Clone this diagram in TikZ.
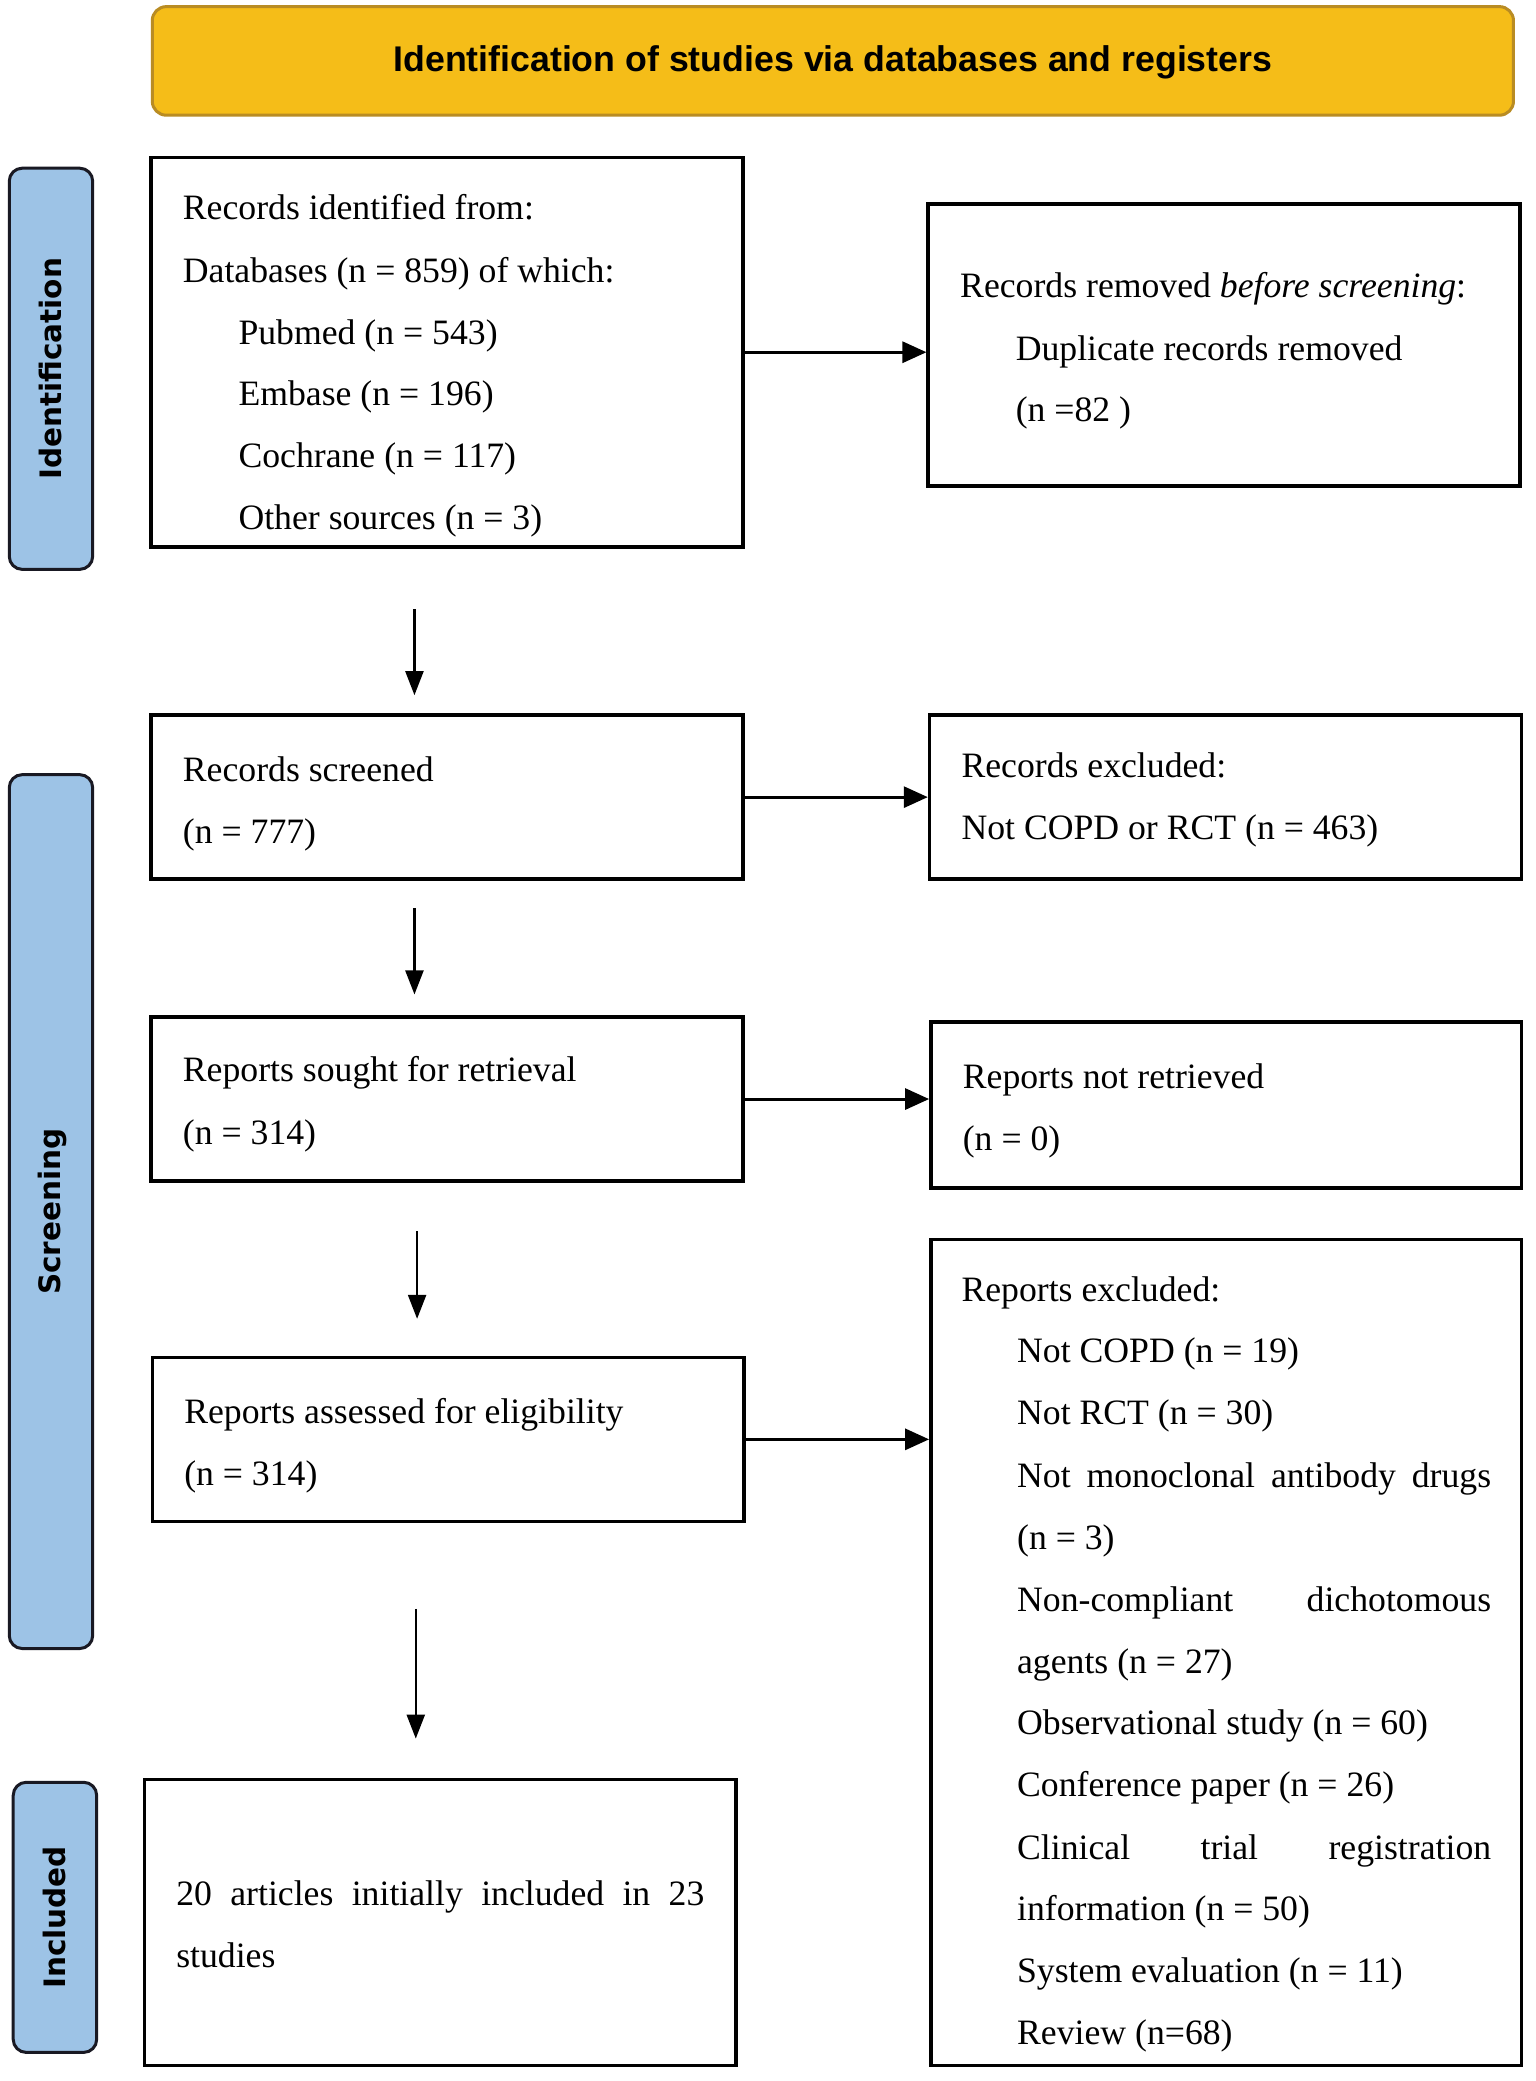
\documentclass[tikz,border=0pt]{standalone}
\usepackage{fontspec}
\setmainfont{Liberation Serif}
\newfontfamily\bannerfont{Liberation Sans}
\newfontfamily\labelfont{DejaVu Sans}
\usetikzlibrary{arrows.meta,fit}
\definecolor{bannerfill}{RGB}{245,189,24}
\definecolor{bannerdraw}{RGB}{185,140,35}
\definecolor{labelfill}{RGB}{157,195,230}
\definecolor{labeldraw}{RGB}{25,25,35}
\begin{document}
\begin{tikzpicture}[x=1.3241pt,y=-1.3241pt,
  box/.style={draw=black,line width=3.5pt,fill=white,inner sep=0pt},
  lbl/.style={draw=labeldraw,line width=3pt,fill=labelfill,inner sep=0pt,rounded corners=13pt},
  banner/.style={draw=bannerdraw,line width=3pt,fill=bannerfill,inner sep=0pt,rounded corners=14pt},
  txt/.style={anchor=base west,inner sep=0pt,font=\fontsize{35.7}{42}\selectfont},
  lbltxt/.style={rotate=90,inner sep=0pt,font=\labelfont\bfseries\fontsize{29.5}{34}\selectfont},
  hflow/.style={line width=3pt,-{Triangle[length=24pt,width=21pt]}},
  vflow/.style={line width=2.3pt,-{Triangle[length=24pt,width=18pt]}}
]
\useasboundingbox (0,0) rectangle (1160,1571.6);
\fill[white] (0,0) rectangle (1160,1571.6);

% banner
\node[banner,fit={(115,5) (1143,87)}] (ban) {};
\node[inner sep=0pt,font=\bannerfont\bfseries\fontsize{35.7}{42}\selectfont] at (629,47) {Identification of studies via databases and registers};

% side labels
\node[lbl,fit={(7,127) (70,430)}] (idl) {};
\node[lbltxt] at (idl.center) {Identification};
\node[lbl,fit={(7,585) (70,1245)}] (scl) {};
\node[lbltxt] at ([xshift=1pt]scl.center) {Screening};
\node[lbl,fit={(10,1346) (73,1550)}] (inl) {};
\node[lbltxt] at (inl.center) {Included};

% boxes
\node[box,fit={(114,119) (561,413)}] (b1) {};
\node[box,fit={(701,154) (1148,367)}] (b2) {};
\node[box,fit={(114,540) (561,664)}] (b3) {};
\node[box,fit={(702,540) (1149,664)}] (b4) {};
\node[box,fit={(114,768) (561,892)}] (b5) {};
\node[box,fit={(703,772) (1149,897)}] (b6) {};
\node[box,fit={(115,1025) (562,1149)}] (b7) {};
\node[box,fit={(703,936) (1149,1560)}] (b8) {};
\node[box,fit={(109,1344) (556,1560)}] (b9) {};

% box 1 text
\node[txt] at (138,166) {Records identified from:};
\node[txt] at (138,213) {Databases (n = 859) of which:};
\node[txt] at (180,260) {Pubmed (n = 543)};
\node[txt] at (180,306) {Embase (n = 196)};
\node[txt] at (180,353) {Cochrane (n = 117)};
\node[txt] at (180,400) {Other sources (n = 3)};

% box 2 text
\node[txt] at (725,225) {Records removed \textit{before screening}:};
\node[txt] at (767,272) {Duplicate records removed};
\node[txt] at (767,318) {(n =82 )};

% box 3 / 4
\node[txt] at (138,590) {Records screened};
\node[txt] at (138,637) {(n = 777)};
\node[txt] at (726,587) {Records excluded:};
\node[txt] at (726,634) {Not COPD or RCT (n = 463)};

% box 5 / 6
\node[txt] at (138,817) {Reports sought for retrieval};
\node[txt] at (138,864) {(n = 314)};
\node[txt] at (727,822) {Reports not retrieved};
\node[txt] at (727,869) {(n = 0)};

% box 7
\node[txt] at (139,1075) {Reports assessed for eligibility};
\node[txt] at (139,1122) {(n = 314)};

% box 8
\node[txt] at (726,983) {Reports excluded:};
\node[txt] at (768,1029) {Not COPD (n = 19)};
\node[txt] at (768,1076) {Not RCT (n = 30)};
\node[txt] at (768,1123) {\makebox[474pt][s]{Not monoclonal antibody drugs}};
\node[txt] at (768,1170) {(n = 3)};
\node[txt] at (768,1217) {\makebox[474pt][s]{Non-compliant dichotomous}};
\node[txt] at (768,1264) {agents (n = 27)};
\node[txt] at (768,1310) {Observational study (n = 60)};
\node[txt] at (768,1357) {Conference paper (n = 26)};
\node[txt] at (768,1404) {\makebox[474pt][s]{Clinical trial registration}};
\node[txt] at (768,1450) {information (n = 50)};
\node[txt] at (768,1497) {System evaluation (n = 11)};
\node[txt] at (768,1544) {Review (n=68)};

% box 9
\node[txt] at (133,1439) {\makebox[528pt][s]{20 articles initially included in 23}};
\node[txt] at (133,1486) {studies};

% horizontal arrows
\draw[hflow] (b1.east) -- (b1.east -| b2.west);
\draw[hflow] (b3.east) -- (b3.east -| b4.west);
\draw[hflow] (b5.east) -- (b5.east -| b6.west);
\draw[hflow] (b7.east) -- (b7.east -| b8.west);

% vertical arrows
\coordinate (v1s) at (313,460); \coordinate (v1e) at (313,525);
\coordinate (v2s) at (313,686); \coordinate (v2e) at (313,751);
\coordinate (v3s) at (315,930); \coordinate (v3e) at (315,996);
\coordinate (v4s) at (314,1215); \coordinate (v4e) at (314,1313);
\draw[vflow] (v1s) -- (v1e);
\draw[vflow] (v2s) -- (v2e);
\draw[vflow] (v3s) -- (v3e);
\draw[vflow] (v4s) -- (v4e);
\end{tikzpicture}
\end{document}
